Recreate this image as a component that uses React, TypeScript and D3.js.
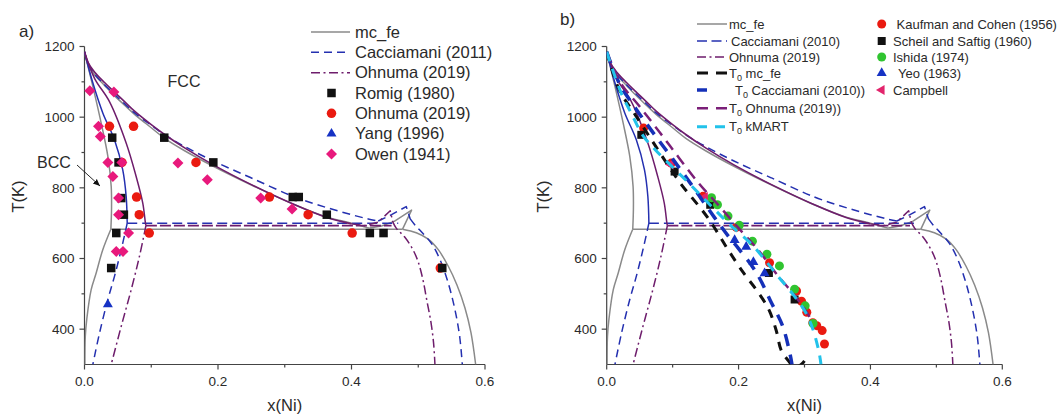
import React from 'react';
import * as d3 from 'd3';

type Pt = [number, number];

// ---------- axis ticks ----------
const xTicksMajor = [0, 0.2, 0.4, 0.6];
const xTicksMinor = [0.1, 0.3, 0.5];
const yTicksMajor = [400, 600, 800, 1000, 1200];
const yTicksMinor = [500, 700, 900, 1100];

// ---------- phase boundaries: mc_fe ----------
const mcfeBccUpper: Pt[] = [[0, 1185], [0.0125, 1087], [0.025, 983], [0.035, 889], [0.040, 804], [0.0405, 740], [0.0395, 683]];
const mcfeBccLower: Pt[] = [[0.0395, 683], [0.0274, 625], [0.0175, 559], [0.010, 512], [0.0035, 430], [0.0012, 380], [0.0005, 300]];
const mcfeFcc: Pt[] = [[0, 1185], [0.005, 1150], [0.015, 1120], [0.03, 1090], [0.042, 1066], [0.06, 1034], [0.075, 1008], [0.1, 970], [0.12, 940], [0.15, 905], [0.193, 861], [0.25, 808], [0.315, 752], [0.363, 717], [0.4, 700], [0.427, 686]];
const mcfeTri: Pt[] = [[0.427, 686], [0.445, 692], [0.464, 705], [0.49, 737], [0.4765, 683]];
const mcfeRight: Pt[] = [[0.4765, 683], [0.497, 673], [0.515, 655], [0.53, 625], [0.545, 578], [0.558, 525], [0.57, 460], [0.579, 390], [0.586, 300]];
const mcfeEut: Pt[] = [[0.0395, 683], [0.4765, 683]];

// ---------- Cacciamani ----------
const cacBccUpper: Pt[] = [[0, 1185], [0.012, 1100], [0.0274, 1012], [0.0449, 936], [0.0573, 851], [0.0624, 776], [0.064, 700]];
const cacBccLower: Pt[] = [[0.064, 700], [0.055, 625], [0.045, 550], [0.035, 484], [0.0225, 389], [0.0125, 300]];
const cacFcc: Pt[] = [[0, 1185], [0.005, 1152], [0.015, 1122], [0.03, 1092], [0.042, 1070], [0.06, 1038], [0.075, 1012], [0.1, 977], [0.12, 950], [0.15, 917], [0.193, 876], [0.25, 828], [0.315, 774], [0.363, 744], [0.4, 724], [0.425, 712], [0.44, 706]];
const cacTri: Pt[] = [[0.44, 706], [0.46, 724], [0.482, 747], [0.488, 712]];
const cacRight: Pt[] = [[0.488, 712], [0.495, 695], [0.505, 675], [0.52, 642], [0.533, 595], [0.545, 530], [0.555, 455], [0.562, 380], [0.566, 300]];
const cacEut: Pt[] = [[0.064, 700], [0.47, 700]];

// ---------- Ohnuma ----------
const ohnBccUpper: Pt[] = [[0, 1185], [0.015, 1110], [0.0374, 1044], [0.0624, 927], [0.0774, 832], [0.0873, 757], [0.0913, 700], [0.092, 693]];
const ohnBccLower: Pt[] = [[0.092, 693], [0.0823, 606], [0.070, 512], [0.055, 408], [0.040, 300]];
const ohnFcc: Pt[] = [[0, 1185], [0.005, 1156], [0.015, 1128], [0.03, 1098], [0.042, 1076], [0.06, 1044], [0.075, 1017], [0.1, 979], [0.12, 951], [0.15, 913], [0.193, 865], [0.25, 809], [0.315, 752], [0.363, 716], [0.4, 698]];
const ohnTri: Pt[] = [[0.4, 698], [0.42, 693], [0.44, 703], [0.458, 735], [0.462, 703]];
const ohnRight: Pt[] = [[0.462, 703], [0.467, 686], [0.48, 660], [0.492, 625], [0.5, 590], [0.507, 540], [0.513, 480], [0.519, 420], [0.523, 360], [0.525, 300]];
const ohnEut: Pt[] = [[0.092, 693], [0.46, 693]];

// ---------- T0 curves (panel b) ----------
const t0Mcfe: Pt[] = [[0, 1185], [0.019, 1077], [0.04, 1016], [0.07, 930], [0.098, 850], [0.113, 810], [0.1535, 715], [0.184, 625], [0.2076, 559], [0.2268, 512], [0.2455, 457], [0.257, 397], [0.2647, 340], [0.275, 312], [0.285, 292], [0.295, 300], [0.305, 325]];
const t0Cac: Pt[] = [[0, 1185], [0.02, 1092], [0.045, 1022], [0.07, 957], [0.1, 882], [0.13, 805], [0.16, 725], [0.185, 662], [0.2, 628], [0.227, 560], [0.25, 474], [0.267, 408], [0.278, 330], [0.281, 300]];
const t0Ohn: Pt[] = [[0, 1185], [0.02, 1100], [0.05, 1030], [0.08, 958], [0.11, 884], [0.14, 812], [0.17, 750], [0.198, 690], [0.22, 645], [0.235, 612], [0.2576, 556], [0.2886, 487], [0.306, 440], [0.312, 420]];
const t0Kmart: Pt[] = [[0, 1185], [0.007, 1145], [0.022, 1068], [0.037, 1012], [0.055, 948], [0.075, 905], [0.098, 862], [0.121, 820], [0.141, 782], [0.164, 738], [0.19, 690], [0.22, 640], [0.24, 596], [0.2606, 548], [0.282, 500], [0.3015, 448], [0.3127, 400], [0.322, 335], [0.325, 300]];

// ---------- experimental points, panel a ----------
const romig: Pt[] = [[0.0415, 942], [0.051, 872], [0.055, 771], [0.059, 724], [0.0476, 672], [0.040, 573], [0.1195, 942], [0.193, 872], [0.312, 774], [0.321, 774], [0.363, 724], [0.4275, 672], [0.448, 672], [0.536, 573]];
const ohnumaPts: Pt[] = [[0.0374, 974], [0.0735, 974], [0.056, 872], [0.167, 872], [0.078, 774], [0.082, 724], [0.097, 672], [0.277, 774], [0.335, 724], [0.401, 672], [0.533, 573]];
const yang: Pt[] = [[0.035, 470]];
const owen: Pt[] = [[0.008, 1075], [0.044, 1071], [0.021, 974], [0.0237, 945], [0.035, 872], [0.0425, 832], [0.056, 872], [0.051, 771], [0.051, 724], [0.066, 672], [0.0476, 620], [0.0577, 620], [0.14, 870], [0.184, 823], [0.264, 771], [0.311, 740]];

// ---------- experimental points, panel b ----------
const kaufman: Pt[] = [[0.056, 969], [0.098, 870], [0.146, 776], [0.1965, 688], [0.247, 588], [0.288, 508], [0.2955, 479], [0.3035, 448], [0.3126, 418], [0.3186, 410], [0.3268, 396], [0.3303, 358]];
const scheil: Pt[] = [[0.0525, 950], [0.103, 846], [0.157, 752], [0.246, 559], [0.285, 484]];
const ishida: Pt[] = [[0.159, 772], [0.168, 752], [0.184, 720], [0.201, 694], [0.221, 649], [0.243, 612], [0.262, 579], [0.285, 513], [0.301, 466], [0.313, 416]];
const yeo: Pt[] = [[0.194, 652], [0.2116, 633], [0.2225, 590], [0.2395, 558]];
const campbell: Pt[] = [[0.097, 866], [0.149, 774]];

// ---------- legend labels ----------
const legendA = ['mc_fe', 'Cacciamani (2011)', 'Ohnuma (2019)', 'Romig (1980)', 'Ohnuma (2019)', 'Yang (1996)', 'Owen (1941)'];
const legendBLines = ['mc_fe', 'Cacciamani (2010)', 'Ohnuma (2019)', ' mc_fe', ' Cacciamani (2010))', ' Ohnuma (2019))', ' kMART'];
const legendBMarks = ['Kaufman and Cohen (1956)', 'Scheil and Saftig (1960)', 'Ishida (1974)', 'Yeo (1963)', 'Campbell'];

const FONT = '"Liberation Sans", Arial, Helvetica, sans-serif';
const GREY = '#8a8a8a';
const BLUE = '#2430b0';
const PURPLE = '#6e1d6c';
const RED = '#ea1a10';
const BLACK = '#111';
const TRI_BLUE = '#1632c4';
const PINK = '#e8197c';
const GREEN = '#30c430';
const CAMP = '#e2246c';
const CYAN = '#22c2ea';
const T0BLUE = '#1530b8';
const T0PURPLE = '#7b1f78';
const TXT = '#2a2a2a';
const AX = '#444';

const yS = d3.scaleLinear().domain([300, 1200]).range([364.5, 46.5]);
const xA = d3.scaleLinear().domain([0, 0.6]).range([84.5, 485]);
const xB = d3.scaleLinear().domain([0, 0.6]).range([606.7, 1002.3]);

type Layer = { pts: Pt[]; color: string; width: number; dash?: string; smooth: boolean };

const DASH_C = '8,5';
const DASHDOT_O = '9,3.5,2,3.5';

const phaseLayers: Layer[] = [
  { pts: mcfeBccUpper, color: GREY, width: 1.5, smooth: true },
  { pts: mcfeBccLower, color: GREY, width: 1.5, smooth: true },
  { pts: mcfeFcc, color: GREY, width: 1.5, smooth: true },
  { pts: mcfeTri, color: GREY, width: 1.5, smooth: false },
  { pts: mcfeRight, color: GREY, width: 1.5, smooth: true },
  { pts: mcfeEut, color: GREY, width: 1.5, smooth: false },
  { pts: cacBccUpper, color: BLUE, width: 1.5, smooth: true },
  { pts: cacBccLower, color: BLUE, width: 1.5, dash: DASH_C, smooth: true },
  { pts: cacFcc, color: BLUE, width: 1.5, dash: DASH_C, smooth: true },
  { pts: cacTri, color: BLUE, width: 1.5, dash: DASH_C, smooth: false },
  { pts: cacRight, color: BLUE, width: 1.5, dash: DASH_C, smooth: true },
  { pts: cacEut, color: BLUE, width: 1.5, dash: '10,5', smooth: false },
  { pts: ohnBccUpper, color: PURPLE, width: 1.5, smooth: true },
  { pts: ohnBccLower, color: PURPLE, width: 1.5, dash: DASHDOT_O, smooth: true },
  { pts: ohnFcc, color: PURPLE, width: 1.6, smooth: true },
  { pts: ohnTri, color: PURPLE, width: 1.5, dash: DASHDOT_O, smooth: false },
  { pts: ohnRight, color: PURPLE, width: 1.5, dash: DASHDOT_O, smooth: true },
  { pts: ohnEut, color: PURPLE, width: 1.6, dash: '11,3', smooth: false },
];

const t0Layers: Layer[] = [
  { pts: t0Mcfe, color: BLACK, width: 3, dash: '9,8', smooth: true },
  { pts: t0Cac, color: T0BLUE, width: 3.5, dash: '12,9', smooth: true },
  { pts: t0Ohn, color: T0PURPLE, width: 2.5, dash: '11,7', smooth: true },
  { pts: t0Kmart, color: CYAN, width: 3, dash: '10,8', smooth: true },
];

function pathOf(x: d3.ScaleLinear<number, number>, pts: Pt[], smooth: boolean) {
  const gen = d3
    .line<Pt>()
    .x((d) => x(d[0]))
    .y((d) => yS(d[1]))
    .curve(smooth ? d3.curveCatmullRom.alpha(0.5) : d3.curveLinear);
  return gen(pts) || '';
}

type Shape = 'square' | 'circle' | 'triUp' | 'diamond' | 'triLeft';

function Marker({ shape, cx, cy, s, color }: { shape: Shape; cx: number; cy: number; s: number; color: string }) {
  if (shape === 'square') return <rect x={cx - s / 2} y={cy - s / 2} width={s} height={s} fill={color} />;
  if (shape === 'circle') return <circle cx={cx} cy={cy} r={s / 2} fill={color} />;
  if (shape === 'diamond') {
    const r = s / 2;
    return <path d={`M${cx},${cy - r}L${cx + r},${cy}L${cx},${cy + r}L${cx - r},${cy}Z`} fill={color} />;
  }
  const h = s * 0.866;
  if (shape === 'triUp')
    return <path d={`M${cx},${cy - (2 * h) / 3}L${cx + s / 2},${cy + h / 3}L${cx - s / 2},${cy + h / 3}Z`} fill={color} />;
  return <path d={`M${cx - (2 * h) / 3},${cy}L${cx + h / 3},${cy - s / 2}L${cx + h / 3},${cy + s / 2}Z`} fill={color} />;
}

function Axes({ x, left, id }: { x: d3.ScaleLinear<number, number>; left: number; id: string }) {
  const x0 = x(0);
  const yb = yS(300);
  return (
    <g>
      <line x1={x0} x2={x0} y1={yS(1200)} y2={yb} stroke={AX} strokeWidth={1.2} />
      <line x1={x0} x2={x(0.6)} y1={yb} y2={yb} stroke={AX} strokeWidth={1.2} />
      {yTicksMajor.map((t) => (
        <g key={'ym' + t}>
          <line x1={x0 - 5} x2={x0} y1={yS(t)} y2={yS(t)} stroke={AX} strokeWidth={1.2} />
          <text x={x0 - 10} y={yS(t)} dy="0.35em" textAnchor="end" fontSize={13.5} fill={TXT} fontFamily={FONT}>
            {t}
          </text>
        </g>
      ))}
      {yTicksMinor.map((t) => (
        <line key={'yn' + t} x1={x0 - 3} x2={x0} y1={yS(t)} y2={yS(t)} stroke={AX} strokeWidth={1.2} />
      ))}
      {xTicksMajor.map((t) => (
        <g key={'xm' + t}>
          <line x1={x(t)} x2={x(t)} y1={yb} y2={yb + 5} stroke={AX} strokeWidth={1.2} />
          <text x={x(t)} y={yb + 21} textAnchor="middle" fontSize={13.5} fill={TXT} fontFamily={FONT}>
            {t.toFixed(1)}
          </text>
        </g>
      ))}
      {xTicksMinor.map((t) => (
        <line key={'xn' + t} x1={x(t)} x2={x(t)} y1={yb} y2={yb + 3} stroke={AX} strokeWidth={1.2} />
      ))}
      <text
        transform={`translate(${left},${196.5}) rotate(-90)`}
        textAnchor="middle"
        dy="0.35em"
        fontSize={16.5}
        fill={TXT}
        fontFamily={FONT}
      >
        T(K)
      </text>
      <text x={(x(0) + x(0.6)) / 2} y={411} textAnchor="middle" fontSize={16.5} fill={TXT} fontFamily={FONT}>
        x(Ni)
      </text>
      <clipPath id={id}>
        <rect x={x0} y={yS(1200) - 2} width={x(0.6) - x0} height={yb - yS(1200) + 2} />
      </clipPath>
    </g>
  );
}

function Lines({ x, layers, clip }: { x: d3.ScaleLinear<number, number>; layers: Layer[]; clip: string }) {
  return (
    <g clipPath={`url(#${clip})`}>
      {layers.map((l, i) => (
        <path
          key={i}
          d={pathOf(x, l.pts, l.smooth)}
          fill="none"
          stroke={l.color}
          strokeWidth={l.width}
          strokeDasharray={l.dash}
          strokeLinejoin="round"
        />
      ))}
    </g>
  );
}

function Points({ x, pts, shape, s, color }: { x: d3.ScaleLinear<number, number>; pts: Pt[]; shape: Shape; s: number; color: string }) {
  return (
    <g>
      {pts.map((p, i) => (
        <Marker key={i} shape={shape} cx={x(p[0])} cy={yS(p[1])} s={s} color={color} />
      ))}
    </g>
  );
}

export default function App() {
  const legARows = [32, 52.3, 72.7, 93, 113.3, 133.7, 154];
  const legAx1 = 311;
  const legAx2 = 350;
  const legAtx = 355;
  const legAmx = 331.5;

  const legBRows = [24, 41, 57, 73, 90, 108.3, 126.7];
  const legBx1 = 697;
  const legBx2 = 727;
  const legBtx = 729;
  const legBmx = 881.7;

  const t0Text = (i: number, label: string, x: number, y: number) => (
    <text key={'t0' + i} x={x} y={y} dy="0.35em" fontSize={13} fill={TXT} fontFamily={FONT}>
      <tspan>T</tspan>
      <tspan dy={3} fontSize={9}>0</tspan>
      <tspan dy={-3}>{label}</tspan>
    </text>
  );

  return (
    <div style={{ position: 'absolute', left: 0, top: 0 }}>
      <svg width={1060} height={416} viewBox="0 0 1060 416" style={{ display: 'block', background: '#fff' }}>
        <rect x={0} y={0} width={1060} height={416} fill="#fff" />

        {/* ================= Panel a ================= */}
        <text x={19} y={37} fontSize={17} fill={TXT} fontFamily={FONT}>a)</text>
        <Axes x={xA} left={18.5} id="clipA" />
        <Lines x={xA} layers={phaseLayers} clip="clipA" />
        <Points x={xA} pts={ohnumaPts} shape="circle" s={9.5} color={RED} />
        <Points x={xA} pts={romig} shape="square" s={8.5} color={BLACK} />
        <Points x={xA} pts={yang} shape="triUp" s={10} color={TRI_BLUE} />
        <Points x={xA} pts={owen} shape="diamond" s={11} color={PINK} />

        <text x={184} y={81} dy="0.35em" textAnchor="middle" fontSize={16} fill={TXT} fontFamily={FONT}>FCC</text>
        <text x={54} y={162} dy="0.35em" textAnchor="middle" fontSize={16} fill={TXT} fontFamily={FONT}>BCC</text>
        <defs>
          <marker id="arr" markerWidth={8} markerHeight={8} refX={7} refY={4} orient="auto" markerUnits="userSpaceOnUse">
            <path d="M0,1L7,4L0,7Z" fill={BLACK} />
          </marker>
        </defs>
        <line x1={77} y1={165} x2={100} y2={186} stroke={BLACK} strokeWidth={0.9} markerEnd="url(#arr)" />

        {/* legend a */}
        <line x1={legAx1} x2={legAx2} y1={legARows[0]} y2={legARows[0]} stroke={GREY} strokeWidth={1.6} />
        <line x1={legAx1} x2={legAx2} y1={legARows[1]} y2={legARows[1]} stroke={BLUE} strokeWidth={1.6} strokeDasharray="8,5" />
        <line x1={legAx1} x2={legAx2} y1={legARows[2]} y2={legARows[2]} stroke={PURPLE} strokeWidth={1.6} strokeDasharray={DASHDOT_O} />
        <Marker shape="square" cx={legAmx} cy={legARows[3]} s={8.5} color={BLACK} />
        <Marker shape="circle" cx={legAmx} cy={legARows[4]} s={9.5} color={RED} />
        <Marker shape="triUp" cx={legAmx} cy={legARows[5]} s={10} color={TRI_BLUE} />
        <Marker shape="diamond" cx={legAmx} cy={legARows[6]} s={11} color={PINK} />
        {legendA.map((t, i) => (
          <text key={'la' + i} x={legAtx} y={legARows[i]} dy="0.35em" fontSize={16.5} fill={TXT} fontFamily={FONT}>
            {t}
          </text>
        ))}

        {/* ================= Panel b ================= */}
        <text x={560} y={25} fontSize={17} fill={TXT} fontFamily={FONT}>b)</text>
        <Axes x={xB} left={543.5} id="clipB" />
        <Lines x={xB} layers={phaseLayers} clip="clipB" />
        <Points x={xB} pts={kaufman} shape="circle" s={9} color={RED} />
        <Points x={xB} pts={scheil} shape="square" s={8} color={BLACK} />
        <Points x={xB} pts={ishida} shape="circle" s={9} color={GREEN} />
        <Points x={xB} pts={yeo} shape="triUp" s={10} color={TRI_BLUE} />
        <Points x={xB} pts={campbell} shape="triLeft" s={10} color={CAMP} />
        <Lines x={xB} layers={t0Layers} clip="clipB" />

        {/* legend b, lines */}
        <line x1={legBx1} x2={legBx2} y1={legBRows[0]} y2={legBRows[0]} stroke={GREY} strokeWidth={1.5} />
        <line x1={legBx1} x2={legBx2} y1={legBRows[1]} y2={legBRows[1]} stroke={BLUE} strokeWidth={1.5} strokeDasharray="10,4.5" />
        <line x1={legBx1} x2={legBx2} y1={legBRows[2]} y2={legBRows[2]} stroke={PURPLE} strokeWidth={1.5} strokeDasharray="9,3.5,2,3.5" />
        <line x1={legBx1} x2={legBx2} y1={legBRows[3]} y2={legBRows[3]} stroke={BLACK} strokeWidth={3} strokeDasharray="11,8" />
        <line x1={legBx1} x2={legBx1 + 10} y1={legBRows[4]} y2={legBRows[4]} stroke={T0BLUE} strokeWidth={3.5} />
        <line x1={legBx1} x2={legBx2} y1={legBRows[5]} y2={legBRows[5]} stroke={T0PURPLE} strokeWidth={2.5} strokeDasharray="11,8" />
        <line x1={legBx1} x2={legBx2} y1={legBRows[6]} y2={legBRows[6]} stroke={CYAN} strokeWidth={3} strokeDasharray="10,8" />
        <text x={legBtx} y={legBRows[0]} dy="0.35em" fontSize={13} fill={TXT} fontFamily={FONT}>{legendBLines[0]}</text>
        <text x={legBtx + 2} y={legBRows[1]} dy="0.35em" fontSize={13} fill={TXT} fontFamily={FONT}>{legendBLines[1]}</text>
        <text x={legBtx} y={legBRows[2]} dy="0.35em" fontSize={13} fill={TXT} fontFamily={FONT}>{legendBLines[2]}</text>
        {t0Text(3, legendBLines[3], legBtx, legBRows[3])}
        {t0Text(4, legendBLines[4], legBtx + 6, legBRows[4])}
        {t0Text(5, legendBLines[5], legBtx, legBRows[5])}
        {t0Text(6, legendBLines[6], legBtx, legBRows[6])}

        {/* legend b, markers */}
        <Marker shape="circle" cx={legBmx} cy={legBRows[0]} s={9} color={RED} />
        <Marker shape="square" cx={legBmx} cy={legBRows[1]} s={8} color={BLACK} />
        <Marker shape="circle" cx={legBmx} cy={legBRows[2]} s={9} color={GREEN} />
        <Marker shape="triUp" cx={legBmx} cy={legBRows[3]} s={10} color={TRI_BLUE} />
        <Marker shape="triLeft" cx={legBmx} cy={legBRows[4]} s={10} color={CAMP} />
        {legendBMarks.map((t, i) => (
          <text
            key={'lbm' + i}
            x={[896.5, 893, 893, 898, 893][i]}
            y={legBRows[i]}
            dy="0.35em"
            fontSize={13}
            fill={TXT}
            fontFamily={FONT}
          >
            {t}
          </text>
        ))}
      </svg>
    </div>
  );
}
